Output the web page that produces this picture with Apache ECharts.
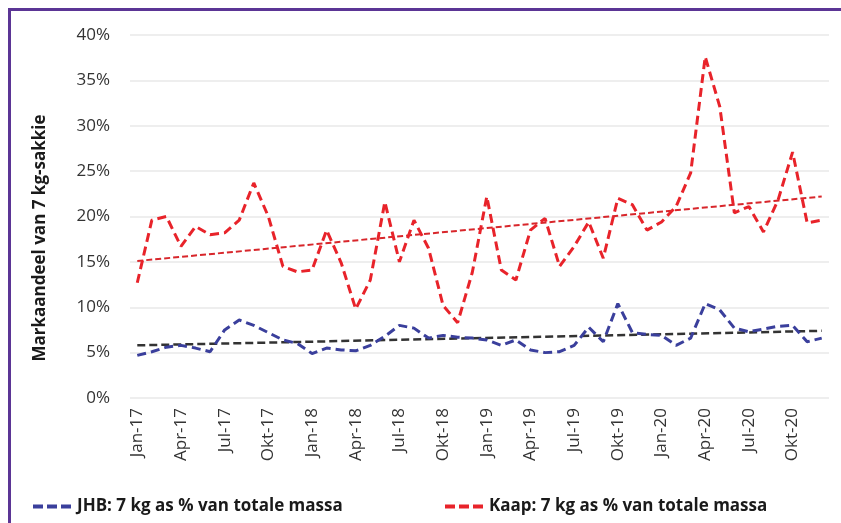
<!DOCTYPE html>
<html>
<head>
<meta charset="utf-8">
<script src="https://cdn.jsdelivr.net/npm/echarts@6/dist/echarts.min.js"></script>
<style>
  html, body { margin: 0; padding: 0; background: #fff; }
  #chart { width: 841px; height: 523px; }
</style>
</head>
<body>
<div id="chart"></div>
<script>
// maande Jan-17 .. Des-20
const monthNames = ['Jan', 'Feb', 'Mrt', 'Apr', 'Mei', 'Jun', 'Jul', 'Aug', 'Sep', 'Okt', 'Nov', 'Des'];
const years = ['17', '18', '19', '20'];
const months = [];
years.forEach(y => monthNames.forEach(m => months.push(m + '-' + y)));

// JHB: 7 kg as % van totale massa
const jhb = [
  4.7, 5.1, 5.6, 5.8, 5.5, 5.1, 7.5, 8.6, 8.0, 7.2, 6.4, 6.0,
  4.9, 5.5, 5.3, 5.2, 5.8, 6.8, 8.0, 7.7, 6.6, 6.9, 6.7, 6.6,
  6.4, 5.8, 6.4, 5.3, 5.0, 5.1, 5.8, 7.8, 6.2, 10.4, 7.2, 7.0,
  6.9, 5.8, 6.6, 10.4, 9.7, 7.7, 7.3, 7.6, 7.9, 8.0, 6.2, 6.6
];
// Kaap: 7 kg as % van totale massa
const kaap = [
  12.7, 19.6, 20.0, 16.7, 18.9, 18.0, 18.2, 19.6, 23.7, 20.0, 14.5, 13.9,
  14.1, 18.5, 14.9, 9.8, 13.0, 21.6, 15.0, 19.6, 16.5, 10.2, 8.3, 13.8,
  22.2, 14.1, 13.0, 18.5, 19.8, 14.5, 16.7, 19.4, 15.4, 22.0, 21.3, 18.5,
  19.4, 21.1, 24.8, 37.6, 32.1, 20.4, 21.1, 18.3, 21.8, 27.1, 19.3, 19.6
];
// lineêre tendenslyne: begin- en eindwaardes
const jhbTrendEnds = [5.8, 7.4];
const kaapTrendEnds = [15.1, 22.2];
const yTicks = [0, 5, 10, 15, 20, 25, 30, 35, 40];

function trendSeries(ends) {
  const d = months.map(() => null);
  d[0] = ends[0];
  d[d.length - 1] = ends[1];
  return d;
}

const chart = echarts.init(document.getElementById('chart'));
const font = 'Open Sans';
// drie strepies as legende-ikoon
const dashIcon = 'path://M0,0h10v4h-10z M14,0h10v4h-10z M28,0h10v4h-10z';
const legendText = { fontFamily: font, fontWeight: 'bold', fontSize: 17, color: '#1a1a1a' };
const option = {
  animation: false,
  grid: { left: 130, right: 12, top: 35, bottom: 125 },
  legend: [
    {
      data: ['JHB: 7 kg as % van totale massa'],
      left: 28, top: 493, icon: dashIcon,
      itemWidth: 40, itemHeight: 4, itemGap: 8,
      textStyle: legendText
    },
    {
      data: ['Kaap: 7 kg as % van totale massa'],
      left: 440, top: 493, icon: dashIcon,
      itemWidth: 40, itemHeight: 4, itemGap: 8,
      textStyle: legendText
    }
  ],
  graphic: [
    {
      type: 'rect', silent: true,
      shape: { x: 9.5, y: 9.5, width: 900, height: 600 },
      style: { fill: null, stroke: '#5b3595', lineWidth: 3 }
    },
    {
      type: 'text', x: 40, y: 238, rotation: Math.PI / 2,
      style: {
        text: 'Markaandeel van 7 kg-sakkie',
        fontFamily: font, fontWeight: 'bold', fontSize: 17, fill: '#1a1a1a',
        textAlign: 'center', textVerticalAlign: 'middle'
      }
    }
  ],
  xAxis: {
    type: 'category',
    data: months,
    boundaryGap: true,
    axisLine: { show: false },
    axisTick: { show: false },
    axisLabel: {
      interval: 2, rotate: 90, margin: 10,
      fontFamily: font, fontSize: 17, color: '#333'
    }
  },
  yAxis: {
    type: 'value',
    min: 0, max: 40, interval: 5,
    axisLine: { show: false },
    axisTick: { show: false },
    splitLine: { lineStyle: { color: '#e9e9e9', width: 1.5 } },
    axisLabel: {
      margin: 20, fontFamily: font, fontSize: 17, color: '#333',
      formatter: v => (yTicks.includes(v) ? v + '%' : '')
    }
  },
  series: [
    {
      name: 'JHB: 7 kg as % van totale massa',
      type: 'line', data: jhb, symbol: 'none', z: 3,
      lineStyle: { color: '#3a3f9c', width: 3, type: [9, 5] },
      itemStyle: { color: '#3a3f9c' }
    },
    {
      name: 'Kaap: 7 kg as % van totale massa',
      type: 'line', data: kaap, symbol: 'none', z: 3,
      lineStyle: { color: '#e8232a', width: 3, type: [9, 5] },
      itemStyle: { color: '#e8232a' }
    },
    {
      name: 'JHB tendens',
      type: 'line', data: trendSeries(jhbTrendEnds), connectNulls: true, symbol: 'none', z: 2,
      lineStyle: { color: '#333', width: 2.5, type: [8, 4] }
    },
    {
      name: 'Kaap tendens',
      type: 'line', data: trendSeries(kaapTrendEnds), connectNulls: true, symbol: 'none', z: 2,
      lineStyle: { color: '#d8262b', width: 2, type: [6, 3] }
    }
  ]
};
chart.setOption(option);
</script>
</body>
</html>
